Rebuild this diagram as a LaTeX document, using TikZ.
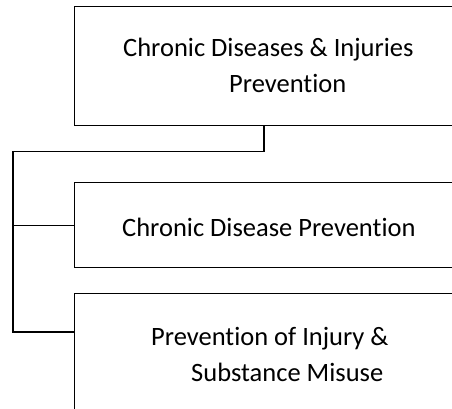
\documentclass[tikz,border=0pt]{standalone}
\usepackage{fontspec}
\setmainfont{Carlito}[Ligatures=NoCommon]
\usetikzlibrary{calc}
\usetikzlibrary{positioning}

\begin{document}
\begin{tikzpicture}[x=1pt, y=-1pt,
    unitbox/.style={draw, line width=1.2pt, anchor=north west, minimum width=390pt, inner sep=0pt},
    unittext/.style={anchor=base west, inner sep=0pt, align=left, font=\fontsize{26.5}{36}\selectfont},
    link/.style={line width=1.2pt}]
    \useasboundingbox (0,0) rectangle (452,408);
    \def\spine{13}

    % Boxes
    \node[unitbox, minimum height=119pt] (cdip) at (74,6) {};
    \node[unitbox, minimum height=85pt] (cdp) at (74,182) {};
    \node[unitbox, minimum height=130pt] (pism) at (74,293) {};

    % Texts (base = last line)
    \node[unittext] (cdiptext) at (123,92.7) {Chronic Diseases \& Injuries\\\hspace*{106pt}Prevention};
    \node[unittext] (cdptext) at (122,236.7) {Chronic Disease Prevention};
    \node[unittext] (pismtext) at (151,381.7) {Prevention of Injury \&\\\hspace*{40pt}Substance Misuse};

    % Connectors
    \coordinate (drop) at ($(cdip.south west)+(190,0)$);
    \coordinate (split) at ($(drop)+(0,25)$);
    \coordinate (join) at ($(pism.north west)+(0,39)$);
    \draw[link] (drop) -- (split) -- (split -| \spine,0) |- (join);
    \draw[link] (cdp.west -| \spine,0) -- (cdp.west);
\end{tikzpicture}
\end{document}
